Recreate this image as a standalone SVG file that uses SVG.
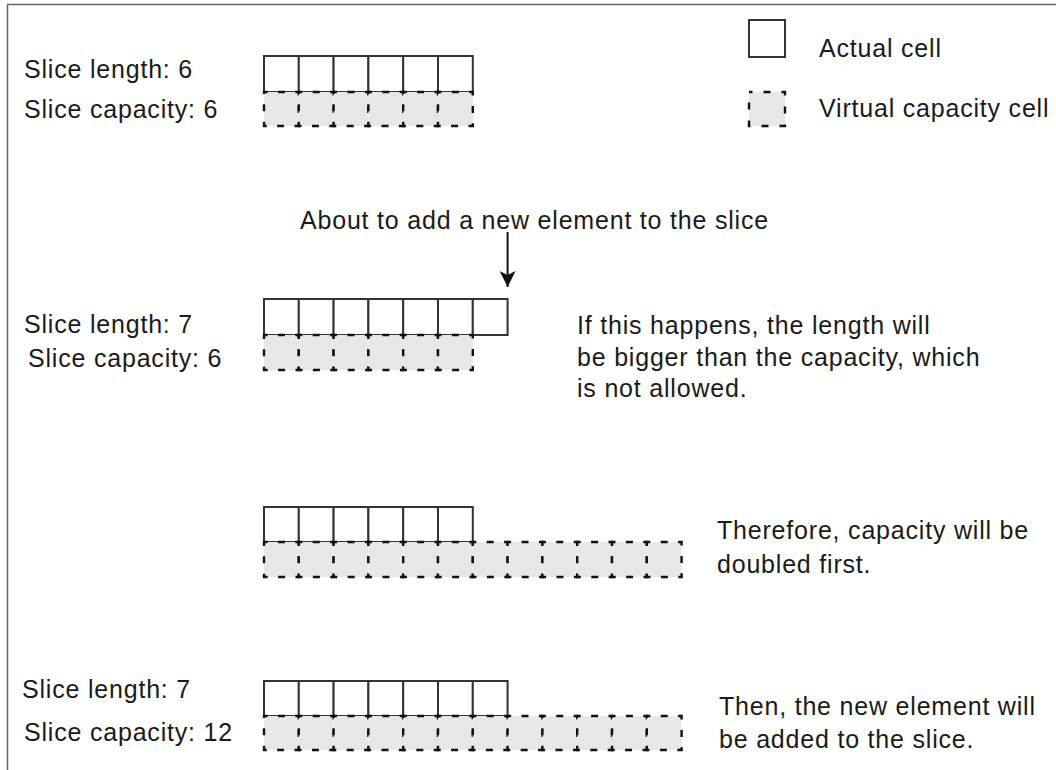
<svg xmlns="http://www.w3.org/2000/svg" width="1056" height="770" viewBox="0 0 1056 770">
<style>
text{font-family:"Liberation Sans",Arial,sans-serif;font-size:25px;letter-spacing:0.8px;fill:#1a1a1a}
.ac{fill:#ffffff;stroke:#333333;stroke-width:2}
.vc{fill:#e6e7e8;stroke:#111111;stroke-width:2.4;stroke-dasharray:7 10.4;stroke-dashoffset:3.5}
.lg{stroke-dasharray:7 11}
.frame{stroke:#666666;stroke-width:1.5;fill:none}
.conn{stroke:#111111;stroke-width:2;fill:none}
</style>
<defs>
<marker id="arrow" markerWidth="16" markerHeight="17" refX="8" refY="16" orient="0" markerUnits="userSpaceOnUse">
<path d="M0,0 L8,4 L16,0 L8,16 Z" fill="#111111"/>
</marker>
</defs>
<rect width="1056" height="770" fill="#ffffff"/>
<g id="frame">
<path class="frame" d="M7.5,770 V4.5 H1056"/>
</g>
<g id="legend">
<rect class="ac" x="749" y="20" width="36" height="37"/>
<text x="819" y="57">Actual cell</text>
<rect class="vc lg" x="749" y="92" width="36" height="34"/>
<text x="819" y="117">Virtual capacity cell</text>
</g>
<g id="row1">
<text x="24" y="78">Slice length: 6</text>
<text x="24" y="118">Slice capacity: 6</text>
<rect class="ac" x="264" y="56" width="34.8" height="36"/>
<rect class="ac" x="298.8" y="56" width="34.8" height="36"/>
<rect class="ac" x="333.6" y="56" width="34.8" height="36"/>
<rect class="ac" x="368.4" y="56" width="34.8" height="36"/>
<rect class="ac" x="403.2" y="56" width="34.8" height="36"/>
<rect class="ac" x="438" y="56" width="34.8" height="36"/>
<rect class="vc" x="264" y="92" width="34.8" height="34"/>
<rect class="vc" x="298.8" y="92" width="34.8" height="34"/>
<rect class="vc" x="333.6" y="92" width="34.8" height="34"/>
<rect class="vc" x="368.4" y="92" width="34.8" height="34"/>
<rect class="vc" x="403.2" y="92" width="34.8" height="34"/>
<rect class="vc" x="438" y="92" width="34.8" height="34"/>
</g>
<g id="row2">
<text x="300" y="229">About to add a new element to the slice</text>
<text x="24" y="333">Slice length: 7</text>
<text x="28" y="367">Slice capacity: 6</text>
<rect class="ac" x="264" y="299" width="34.8" height="36"/>
<rect class="ac" x="298.8" y="299" width="34.8" height="36"/>
<rect class="ac" x="333.6" y="299" width="34.8" height="36"/>
<rect class="ac" x="368.4" y="299" width="34.8" height="36"/>
<rect class="ac" x="403.2" y="299" width="34.8" height="36"/>
<rect class="ac" x="438" y="299" width="34.8" height="36"/>
<rect class="ac" x="472.8" y="299" width="34.8" height="36"/>
<rect class="vc" x="264" y="335" width="34.8" height="35"/>
<rect class="vc" x="298.8" y="335" width="34.8" height="35"/>
<rect class="vc" x="333.6" y="335" width="34.8" height="35"/>
<rect class="vc" x="368.4" y="335" width="34.8" height="35"/>
<rect class="vc" x="403.2" y="335" width="34.8" height="35"/>
<rect class="vc" x="438" y="335" width="34.8" height="35"/>
<text x="577" y="334">If this happens, the length will</text>
<text x="577" y="366">be bigger than the capacity, which</text>
<text x="577" y="397">is not allowed.</text>
</g>
<g id="row3">
<rect class="ac" x="264" y="507" width="34.8" height="35"/>
<rect class="ac" x="298.8" y="507" width="34.8" height="35"/>
<rect class="ac" x="333.6" y="507" width="34.8" height="35"/>
<rect class="ac" x="368.4" y="507" width="34.8" height="35"/>
<rect class="ac" x="403.2" y="507" width="34.8" height="35"/>
<rect class="ac" x="438" y="507" width="34.8" height="35"/>
<rect class="vc" x="264" y="542" width="34.8" height="35"/>
<rect class="vc" x="298.8" y="542" width="34.8" height="35"/>
<rect class="vc" x="333.6" y="542" width="34.8" height="35"/>
<rect class="vc" x="368.4" y="542" width="34.8" height="35"/>
<rect class="vc" x="403.2" y="542" width="34.8" height="35"/>
<rect class="vc" x="438" y="542" width="34.8" height="35"/>
<rect class="vc" x="472.8" y="542" width="34.8" height="35"/>
<rect class="vc" x="507.6" y="542" width="34.8" height="35"/>
<rect class="vc" x="542.4" y="542" width="34.8" height="35"/>
<rect class="vc" x="577.2" y="542" width="34.8" height="35"/>
<rect class="vc" x="612" y="542" width="34.8" height="35"/>
<rect class="vc" x="646.8" y="542" width="34.8" height="35"/>
<text x="717" y="539">Therefore, capacity will be</text>
<text x="717" y="573">doubled first.</text>
</g>
<g id="row4">
<text x="22" y="698">Slice length: 7</text>
<text x="24" y="741">Slice capacity: 12</text>
<rect class="ac" x="264" y="681" width="34.8" height="35"/>
<rect class="ac" x="298.8" y="681" width="34.8" height="35"/>
<rect class="ac" x="333.6" y="681" width="34.8" height="35"/>
<rect class="ac" x="368.4" y="681" width="34.8" height="35"/>
<rect class="ac" x="403.2" y="681" width="34.8" height="35"/>
<rect class="ac" x="438" y="681" width="34.8" height="35"/>
<rect class="ac" x="472.8" y="681" width="34.8" height="35"/>
<rect class="vc" x="264" y="716" width="34.8" height="34"/>
<rect class="vc" x="298.8" y="716" width="34.8" height="34"/>
<rect class="vc" x="333.6" y="716" width="34.8" height="34"/>
<rect class="vc" x="368.4" y="716" width="34.8" height="34"/>
<rect class="vc" x="403.2" y="716" width="34.8" height="34"/>
<rect class="vc" x="438" y="716" width="34.8" height="34"/>
<rect class="vc" x="472.8" y="716" width="34.8" height="34"/>
<rect class="vc" x="507.6" y="716" width="34.8" height="34"/>
<rect class="vc" x="542.4" y="716" width="34.8" height="34"/>
<rect class="vc" x="577.2" y="716" width="34.8" height="34"/>
<rect class="vc" x="612" y="716" width="34.8" height="34"/>
<rect class="vc" x="646.8" y="716" width="34.8" height="34"/>
<text x="719" y="715">Then, the new element will</text>
<text x="719" y="748">be added to the slice.</text>
</g>
<g id="connectors">
<line class="conn" x1="507.6" y1="232" x2="507.6" y2="287" marker-end="url(#arrow)"/>
</g>
</svg>
